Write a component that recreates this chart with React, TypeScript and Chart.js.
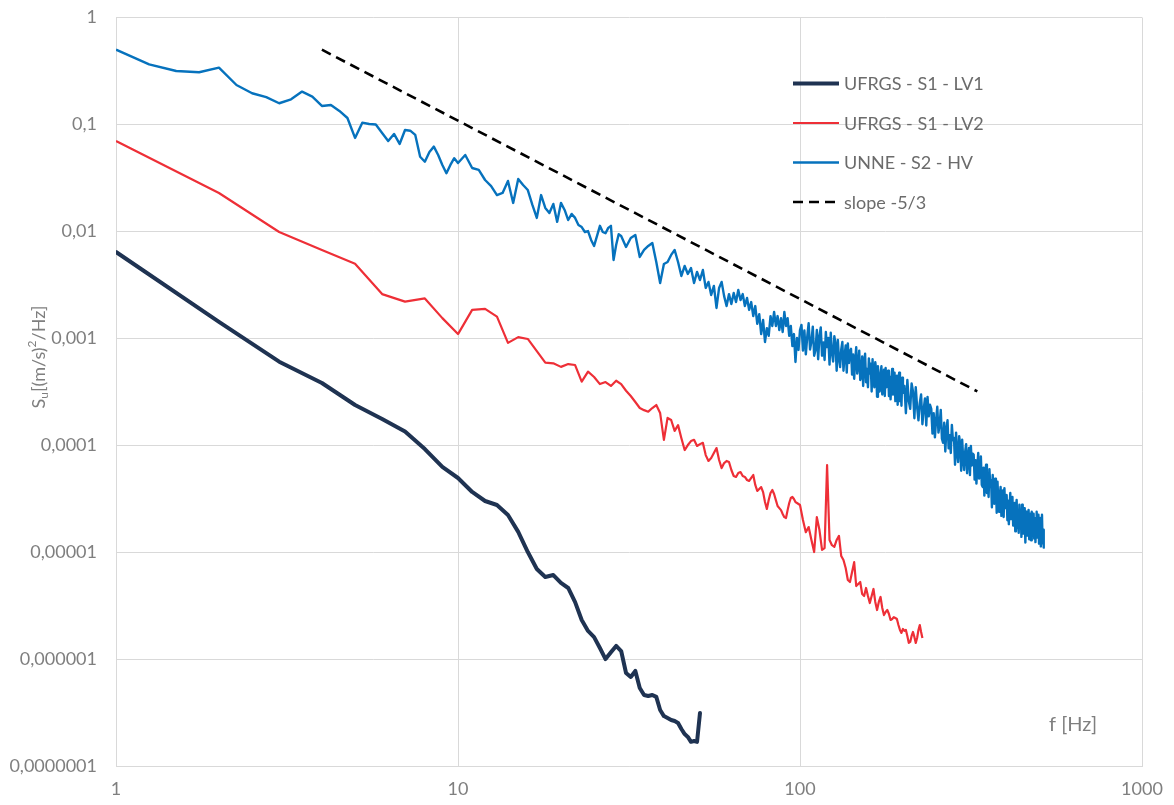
import React, { useEffect, useRef } from "react";
import { Chart, registerables } from "chart.js";

Chart.register(...registerables);

// ---------- axes ----------
const X_TICKS = [1, 10, 100, 1000];
const X_TICK_LABELS = ["1", "10", "100", "1000"];
const Y_TICKS = [1e-7, 1e-6, 1e-5, 1e-4, 1e-3, 1e-2, 1e-1, 1];
const Y_TICK_LABELS = ["0,0000001", "0,000001", "0,00001", "0,0001", "0,001", "0,01", "0,1", "1"];
const X_TITLE = "f [Hz]";

// ---------- series names ----------
const NAME_LV1 = "UFRGS - S1 - LV1";
const NAME_LV2 = "UFRGS - S1 - LV2";
const NAME_HV = "UNNE - S2 - HV";
const NAME_SLOPE = "slope -5/3";

// ---------- UFRGS - S1 - LV1 : f = 1..51 Hz, 1 Hz step ----------
const LV1_START_HZ = 1;
const LV1_STEP_HZ = 1;
const LV1_S = [
  6.43e-3, 1.43e-3, 6.07e-4, 3.84e-4, 2.39e-4, 1.77e-4, 1.35e-4, 9.27e-5, 6.3e-5, 4.97e-5,
  3.68e-5, 3.03e-5, 2.78e-5, 2.24e-5, 1.56e-5, 1.01e-5, 7.02e-6, 5.9e-6, 6.16e-6, 5.19e-6,
  4.66e-6, 3.44e-6, 2.34e-6, 1.85e-6, 1.62e-6, 1.28e-6, 1.01e-6, 1.17e-6, 1.34e-6, 1.2e-6,
  7.48e-7, 6.87e-7, 7.82e-7, 5.42e-7, 4.66e-7, 4.56e-7, 4.66e-7, 4.47e-7, 3.37e-7, 2.96e-7,
  2.84e-7, 2.72e-7, 2.66e-7, 2.55e-7, 2.24e-7, 2.01e-7, 1.89e-7, 1.7e-7, 1.73e-7, 1.7e-7,
  3.16e-7,
];

// ---------- UFRGS - S1 - LV2 ----------
// f = 1..100 Hz, 1 Hz step
const LV2_LOW_START_HZ = 1;
const LV2_LOW_STEP_HZ = 1;
const LV2_LOW_S = [
  7.0e-2, 2.29e-2, 9.9e-3, 6.7e-3, 5.0e-3, 2.6e-3, 2.21e-3, 2.37e-3, 1.55e-3, 1.1e-3,
  1.85e-3, 1.89e-3, 1.6e-3, 9.1e-4, 1.03e-3, 9.9e-4, 7.63e-4, 5.94e-4, 5.86e-4, 5.43e-4,
  5.77e-4, 5.65e-4, 3.95e-4, 4.9e-4, 4.37e-4, 3.75e-4, 3.92e-4, 3.6e-4, 4.03e-4, 3.75e-4,
  3.25e-4, 2.9e-4, 2.55e-4, 2.24e-4, 2.14e-4, 2.07e-4, 2.24e-4, 2.39e-4, 2.01e-4, 1.13e-4,
  1.81e-4, 1.73e-4, 1.37e-4, 1.55e-4, 1.17e-4, 9.07e-5, 1.01e-4, 1.1e-4, 1.13e-4, 9.9e-5,
  1.03e-4, 1.06e-4, 8.13e-5, 7.17e-5, 7.63e-5, 8.5e-5, 9.46e-5, 7.32e-5, 6.15e-5, 6.85e-5,
  7.17e-5, 7.01e-5, 5.9e-5, 5.19e-5, 5.08e-5, 5.53e-5, 5.65e-5, 5.19e-5, 5.08e-5, 4.76e-5,
  4.66e-5, 4.97e-5, 5.3e-5, 4.28e-5, 3.76e-5, 3.92e-5, 4.09e-5, 3.67e-5, 2.96e-5, 2.55e-5,
  3.09e-5, 3.6e-5, 3.84e-5, 3.52e-5, 3.09e-5, 2.72e-5, 2.6e-5, 2.49e-5, 2.29e-5, 2.14e-5,
  2.1e-5, 2.49e-5, 2.9e-5, 3.23e-5, 3.3e-5, 3.16e-5, 2.96e-5, 2.9e-5, 2.84e-5, 2.78e-5,
];
// f = 102..228 Hz, 2 Hz step
const LV2_HIGH_START_HZ = 102;
const LV2_HIGH_STEP_HZ = 2;
const LV2_HIGH_S = [
  2.01e-5, 1.55e-5, 1.73e-5, 1.31e-5, 1.01e-5, 2.14e-5, 1.62e-5, 1.06e-5, 1.1e-5, 6.57e-5,
  1.31e-5, 1.17e-5, 1.13e-5, 1.31e-5, 1.43e-5, 9.27e-6, 8.5e-6, 7.17e-6, 5.53e-6, 5.3e-6,
  6.57e-6, 8.13e-6, 4.86e-6, 5.08e-6, 5.3e-6, 4.09e-6, 3.92e-6, 4.66e-6, 3.92e-6, 3.37e-6,
  3.92e-6, 4.56e-6, 3.45e-6, 2.9e-6, 3.45e-6, 3.84e-6, 3.03e-6, 2.6e-6, 2.78e-6, 2.9e-6,
  2.66e-6, 2.34e-6, 2.39e-6, 2.49e-6, 2.44e-6, 2.39e-6, 2.1e-6, 1.89e-6, 1.77e-6, 1.93e-6,
  1.85e-6, 1.89e-6, 1.66e-6, 1.43e-6, 1.46e-6, 1.66e-6, 1.81e-6, 1.62e-6, 1.43e-6, 1.59e-6,
  1.89e-6, 2.1e-6, 1.81e-6, 1.59e-6,
];

// ---------- UNNE - S2 - HV ----------
// f = 1..10 Hz, 0.25 Hz step
const HV_A_START_HZ = 1;
const HV_A_STEP_HZ = 0.25;
const HV_A_S = [
  0.5, 0.365, 0.316, 0.308, 0.34, 0.234, 0.196, 0.18, 0.158, 0.172,
  0.203, 0.182, 0.149, 0.152, 0.134, 0.115, 0.0749, 0.104, 0.101, 0.1,
  0.0834, 0.0702, 0.0816, 0.0658, 0.0889, 0.0875, 0.0799, 0.05, 0.0449, 0.0554,
  0.0621, 0.0519, 0.0419, 0.035, 0.0419, 0.0484, 0.0437,
];
// f = 10.5..30 Hz, 0.5 Hz step
const HV_B_START_HZ = 10.5;
const HV_B_STEP_HZ = 0.5;
const HV_B_S = [
  0.0519, 0.0392, 0.0376, 0.0303, 0.0266, 0.0219, 0.0229, 0.0297, 0.0185, 0.031,
  0.0272, 0.0244, 0.0177, 0.0134, 0.0219, 0.0166, 0.0149, 0.0181, 0.0123, 0.0185,
  0.0159, 0.0128, 0.0146, 0.0134, 0.0115, 0.011, 0.00989, 0.0101, 0.00834, 0.00733,
  0.00909, 0.0113, 0.00989, 0.00964, 0.0108, 0.0113, 0.00542, 0.00749, 0.00943, 0.00909,
];
// f = 31..100 Hz, 1 Hz step
const HV_C_START_HZ = 31;
const HV_C_STEP_HZ = 1;
const HV_C_S = [
  7.17e-3, 8.7e-3, 9.28e-3, 5.78e-3, 6.72e-3, 7.33e-3, 7.82e-3, 5.19e-3, 3.3e-3, 4.97e-3,
  5.19e-3, 6.04e-3, 6.72e-3, 5.19e-3, 3.84e-3, 4.76e-3, 4.01e-3, 4.56e-3, 3.3e-3, 4.19e-3,
  3.52e-3, 4.37e-3, 2.97e-3, 3.38e-3, 2.55e-3, 3.1e-3, 1.93e-3, 2.97e-3, 3.38e-3, 2.49e-3,
  2.01e-3, 2.6e-3, 2.1e-3, 2.66e-3, 2.19e-3, 2.84e-3, 2.29e-3, 2.6e-3, 2.01e-3, 2.39e-3,
  1.85e-3, 2.19e-3, 1.62e-3, 2.01e-3, 1.37e-3, 1.69e-3, 1.1e-3, 1.49e-3, 9.28e-4, 1.25e-3,
  1.06e-3, 1.62e-3, 1.31e-3, 1.77e-3, 1.31e-3, 1.62e-3, 1.2e-3, 1.55e-3, 1.15e-3, 1.77e-3,
  1.31e-3, 1.55e-3, 1.06e-3, 1.31e-3, 8.5e-4, 1.1e-3, 6.04e-4, 1.01e-3, 7.82e-4, 1.2e-3,
];
// f = 101..200 Hz, 1 Hz step
const HV_D_START_HZ = 101;
const HV_D_STEP_HZ = 1;
const HV_D_S = [
  1.34e-3, 7.7e-4, 1.19e-3, 7.1e-4, 1.04e-3, 1.39e-3, 7.9e-4, 9.4e-4, 1.29e-3, 6.9e-4,
  7.8e-4, 1.2e-3, 6.4e-4, 1.06e-3, 1.27e-3, 6.9e-4, 9.2e-4, 6.3e-4, 1.15e-3, 8.3e-4,
  1.01e-3, 5.7e-4, 1.13e-3, 7.3e-4, 6.1e-4, 1.05e-3, 8.9e-4, 5.0e-4, 9.7e-4, 6.5e-4,
  5.4e-4, 7.9e-4, 9.3e-4, 5.0e-4, 6.9e-4, 8.6e-4, 4.8e-4, 9.0e-4, 5.9e-4, 7.6e-4,
  8.0e-4, 4.6e-4, 7.1e-4, 4.2e-4, 6.2e-4, 8.3e-4, 4.7e-4, 5.6e-4, 7.7e-4, 4.1e-4,
  4.4e-4, 6.8e-4, 3.6e-4, 6.0e-4, 7.2e-4, 3.9e-4, 5.2e-4, 3.5e-4, 6.5e-4, 4.7e-4,
  5.8e-4, 3.2e-4, 6.4e-4, 4.1e-4, 3.5e-4, 6.0e-4, 5.1e-4, 2.85e-4, 5.5e-4, 3.7e-4,
  3.2e-4, 4.7e-4, 5.5e-4, 3.0e-4, 4.1e-4, 5.1e-4, 2.9e-4, 5.3e-4, 3.5e-4, 4.5e-4,
  5.0e-4, 2.9e-4, 4.4e-4, 2.7e-4, 3.9e-4, 5.2e-4, 3.0e-4, 3.5e-4, 4.8e-4, 2.6e-4,
  2.9e-4, 4.5e-4, 2.4e-4, 4.0e-4, 4.8e-4, 2.6e-4, 3.45e-4, 2.35e-4, 4.3e-4, 3.1e-4,
];
// f = 202..516 Hz, 2 Hz step
const HV_E_START_HZ = 202;
const HV_E_STEP_HZ = 2;
const HV_E_S = [
  3.6e-4, 2.0e-4, 4.1e-4, 2.6e-4, 2.2e-4, 3.8e-4, 3.2e-4, 1.8e-4, 3.5e-4, 2.3e-4,
  1.72e-4, 2.5e-4, 3.0e-4, 1.58e-4, 2.2e-4, 2.75e-4, 1.54e-4, 2.85e-4, 1.87e-4, 2.4e-4,
  2.2e-4, 1.29e-4, 2.0e-4, 1.19e-4, 1.73e-4, 2.3e-4, 1.32e-4, 1.57e-4, 2.15e-4, 1.16e-4,
  1.06e-4, 1.63e-4, 8.8e-5, 1.44e-4, 1.72e-4, 9.4e-5, 1.25e-4, 8.5e-5, 1.56e-4, 1.12e-4,
  1.18e-4, 6.6e-5, 1.32e-4, 8.5e-5, 7.0e-5, 1.22e-4, 1.03e-4, 5.8e-5, 1.13e-4, 7.5e-5,
  5.9e-5, 8.7e-5, 1.03e-4, 5.5e-5, 7.6e-5, 9.5e-5, 5.3e-5, 9.9e-5, 6.5e-5, 8.4e-5,
  8.2e-5, 4.8e-5, 7.3e-5, 4.4e-5, 6.4e-5, 8.5e-5, 4.9e-5, 5.8e-5, 7.9e-5, 4.3e-5,
  4.1e-5, 6.2e-5, 3.4e-5, 5.5e-5, 6.6e-5, 3.6e-5, 4.8e-5, 3.3e-5, 6.0e-5, 4.3e-5,
  4.75e-5, 2.65e-5, 5.3e-5, 3.4e-5, 2.85e-5, 4.9e-5, 4.2e-5, 2.35e-5, 4.6e-5, 3.0e-5,
  2.4e-5, 3.5e-5, 4.1e-5, 2.2e-5, 3.05e-5, 3.8e-5, 2.15e-5, 4.0e-5, 2.6e-5, 3.35e-5,
  3.45e-5, 2.0e-5, 3.05e-5, 1.84e-5, 2.7e-5, 3.6e-5, 2.05e-5, 2.4e-5, 3.3e-5, 1.79e-5,
  1.91e-5, 2.9e-5, 1.58e-5, 2.6e-5, 3.1e-5, 1.69e-5, 2.25e-5, 1.53e-5, 2.8e-5, 2.0e-5,
  2.5e-5, 1.4e-5, 2.8e-5, 1.8e-5, 1.5e-5, 2.6e-5, 2.2e-5, 1.24e-5, 2.4e-5, 1.6e-5,
  1.44e-5, 2.1e-5, 2.5e-5, 1.33e-5, 1.85e-5, 2.3e-5, 1.3e-5, 2.4e-5, 1.57e-5, 2.0e-5,
  2.3e-5, 1.35e-5, 2.1e-5, 1.25e-5, 1.82e-5, 2.4e-5, 1.38e-5, 1.64e-5, 2.25e-5, 1.21e-5,
  1.39e-5, 2.1e-5, 1.14e-5, 1.87e-5, 2.25e-5, 1.22e-5, 1.63e-5, 1.11e-5,
];

// ---------- slope -5/3 reference line ----------
const SLOPE_F = [4, 330];
const SLOPE_S = [0.5, 3.2e-4];

// ---------- styles ----------
const COLOR_LV1 = "#1f3352";
const COLOR_LV2 = "#ee2f37";
const COLOR_HV = "#0672bd";
const COLOR_SLOPE = "#000000";
const GRID_COLOR = "#d9d9d9";
const TICK_COLOR = "#7f7f7f";
const LEGEND_TEXT_COLOR = "#6b6b6b";
const FONT_FAMILY = "Lato, 'Open Sans', sans-serif";

type Pt = { x: number; y: number };
function segment(startHz: number, stepHz: number, values: number[]): Pt[] {
  return values.map((v, i) => ({ x: Math.round((startHz + i * stepHz) * 1000) / 1000, y: v }));
}

const overlayPlugin = {
  id: "overlayTexts",
  afterDraw(chart: any) {
    const ctx: CanvasRenderingContext2D = chart.ctx;
    const area = chart.chartArea;
    ctx.save();

    // legend (inside plot, upper right)
    const lgX = area.left + 677;
    const lgY0 = area.top + 66;
    const lgDY = 39.5;
    const lineLen = 46;
    ctx.font = `18px ${FONT_FAMILY}`;
    ctx.textBaseline = "middle";
    ctx.textAlign = "left";
    chart.data.datasets.forEach((ds: any, i: number) => {
      const y = lgY0 + i * lgDY;
      ctx.save();
      ctx.strokeStyle = ds.borderColor;
      ctx.lineWidth = ds.borderWidth;
      ctx.setLineDash(ds.borderDash || []);
      ctx.lineCap = "butt";
      ctx.beginPath();
      ctx.moveTo(lgX, y);
      ctx.lineTo(lgX + lineLen, y);
      ctx.stroke();
      ctx.restore();
      ctx.fillStyle = LEGEND_TEXT_COLOR;
      ctx.fillText(ds.label, lgX + lineLen + 5, y + 1);
    });

    // x axis title inside plot, lower right
    ctx.fillStyle = TICK_COLOR;
    ctx.font = `20px ${FONT_FAMILY}`;
    ctx.textAlign = "center";
    ctx.textBaseline = "middle";
    ctx.fillText(X_TITLE, area.left + 957, area.top + 707);

    // y axis title, rotated, with subscript and superscript
    ctx.save();
    ctx.translate(39, 357);
    ctx.rotate(-Math.PI / 2);
    const big = `18px ${FONT_FAMILY}`;
    const small = `12px ${FONT_FAMILY}`;
    const parts: [string, string, number][] = [
      ["S", big, 0],
      ["u", small, 5],
      ["[(m/s)", big, 0],
      ["2", small, -7],
      ["/Hz]", big, 0],
    ];
    let total = 0;
    parts.forEach(([t, f]) => {
      ctx.font = f;
      total += ctx.measureText(t).width;
    });
    let cx = -total / 2;
    ctx.textAlign = "left";
    ctx.textBaseline = "middle";
    parts.forEach(([t, f, dy]) => {
      ctx.font = f;
      ctx.fillText(t, cx, dy);
      cx += ctx.measureText(t).width;
    });
    ctx.restore();

    ctx.restore();
  },
};

export default function App() {
  const canvasRef = useRef<HTMLCanvasElement | null>(null);

  useEffect(() => {
    if (!canvasRef.current) return;
    const lv1 = segment(LV1_START_HZ, LV1_STEP_HZ, LV1_S);
    const lv2 = [
      ...segment(LV2_LOW_START_HZ, LV2_LOW_STEP_HZ, LV2_LOW_S),
      ...segment(LV2_HIGH_START_HZ, LV2_HIGH_STEP_HZ, LV2_HIGH_S),
    ];
    const hv = [
      ...segment(HV_A_START_HZ, HV_A_STEP_HZ, HV_A_S),
      ...segment(HV_B_START_HZ, HV_B_STEP_HZ, HV_B_S),
      ...segment(HV_C_START_HZ, HV_C_STEP_HZ, HV_C_S),
      ...segment(HV_D_START_HZ, HV_D_STEP_HZ, HV_D_S),
      ...segment(HV_E_START_HZ, HV_E_STEP_HZ, HV_E_S),
    ];
    const slope = SLOPE_F.map((f, i) => ({ x: f, y: SLOPE_S[i] }));

    const tickFont = { family: FONT_FAMILY, size: 18 };

    const chart = new Chart(canvasRef.current, {
      type: "line",
      data: {
        datasets: [
          {
            label: NAME_LV1,
            data: lv1,
            borderColor: COLOR_LV1,
            borderWidth: 4,
            pointRadius: 0,
            tension: 0,
            borderJoinStyle: "round",
            borderCapStyle: "round",
          },
          {
            label: NAME_LV2,
            data: lv2,
            borderColor: COLOR_LV2,
            borderWidth: 2.2,
            pointRadius: 0,
            tension: 0,
            borderJoinStyle: "round",
          },
          {
            label: NAME_HV,
            data: hv,
            borderColor: COLOR_HV,
            borderWidth: 2.4,
            pointRadius: 0,
            tension: 0,
            borderJoinStyle: "round",
          },
          {
            label: NAME_SLOPE,
            data: slope,
            borderColor: COLOR_SLOPE,
            borderWidth: 2.6,
            borderDash: [10, 6],
            pointRadius: 0,
            tension: 0,
          },
        ],
      },
      options: {
        animation: false,
        responsive: false,
        events: [],
        layout: { padding: { top: 17.5, right: 32, bottom: 0, left: 0 } },
        plugins: {
          legend: { display: false },
          tooltip: { enabled: false },
          title: { display: false },
        },
        scales: {
          x: {
            type: "logarithmic",
            min: 1,
            max: 1000,
            afterBuildTicks: (s: any) => {
              s.ticks = X_TICKS.map((v) => ({ value: v }));
            },
            afterFit: (s: any) => {
              s.height = 38.5;
              s.paddingLeft = 0;
              s.paddingRight = 0;
            },
            grid: { color: GRID_COLOR, lineWidth: 1, drawTicks: false },
            border: { color: GRID_COLOR, width: 1 },
            ticks: {
              padding: 12,
              color: TICK_COLOR,
              font: tickFont,
              maxRotation: 0,
              autoSkip: false,
              callback: (_v: any, i: number) => X_TICK_LABELS[i],
            },
          },
          y: {
            type: "logarithmic",
            min: 1e-7,
            max: 1,
            afterBuildTicks: (s: any) => {
              s.ticks = Y_TICKS.map((v) => ({ value: v }));
            },
            afterFit: (s: any) => {
              s.width = 116;
              s.paddingTop = 0;
              s.paddingBottom = 0;
            },
            grid: { color: GRID_COLOR, lineWidth: 1, drawTicks: false },
            border: { color: GRID_COLOR, width: 1 },
            ticks: {
              padding: 19,
              color: TICK_COLOR,
              font: tickFont,
              autoSkip: false,
              callback: (_v: any, i: number) => Y_TICK_LABELS[i],
            },
          },
        },
      },
      plugins: [overlayPlugin],
    } as any);

    return () => chart.destroy();
  }, []);

  return (
    <div style={{ position: "fixed", left: 0, top: 0, width: 1174, height: 805, background: "#ffffff" }}>
      <canvas ref={canvasRef} width={1174} height={805} style={{ display: "block", width: 1174, height: 805 }} />
    </div>
  );
}
